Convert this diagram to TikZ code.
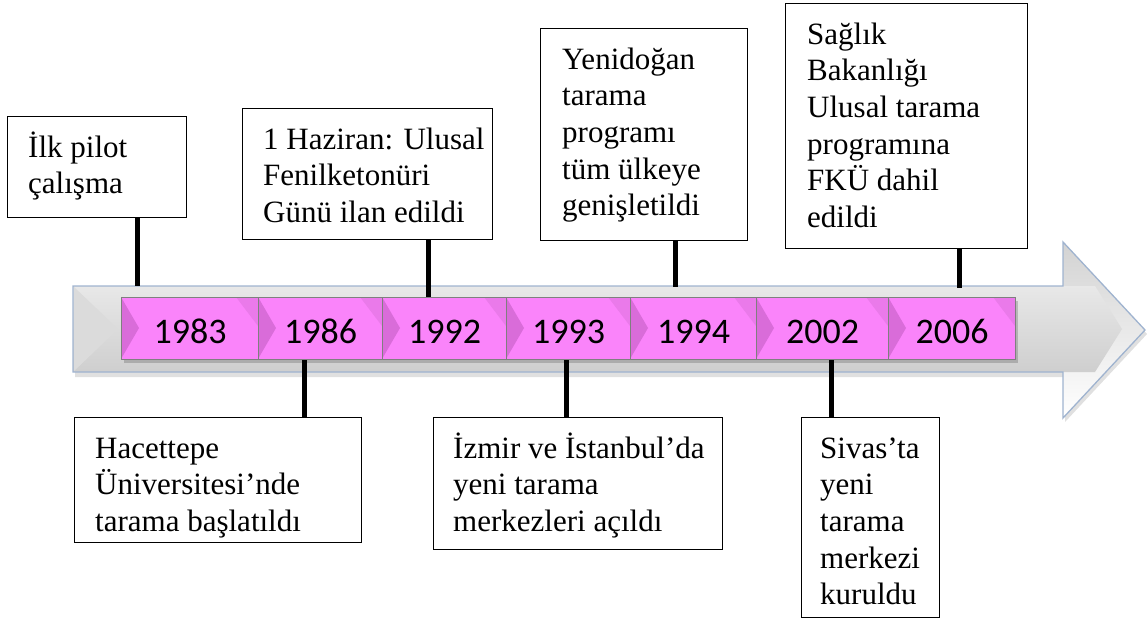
\documentclass[tikz,border=0pt]{standalone}
\usepackage{fontspec}
\setmainfont{Liberation Serif}
\newfontfamily\yearfont{Carlito}
\usetikzlibrary{calc}
\definecolor{pinkbase}{HTML}{FA84FA}
\definecolor{pinkdark}{HTML}{D96CD9}
\definecolor{pinkmid}{HTML}{EA7AEA}
\definecolor{arrowline}{HTML}{9FB3CF}
\definecolor{yrborder}{HTML}{7F7F7F}
\tikzset{
  evbox/.style={draw=black, line width=1.2pt, fill=white, anchor=north west, inner sep=0pt},
  evtext/.style={anchor=north west, inner sep=0pt, align=left, font=\fontsize{31}{36.6}\selectfont},
  yearbox/.style={draw=yrborder, line width=1.3pt, anchor=north west, inner sep=0pt, minimum height=62pt},
  yeartext/.style={font=\yearfont\fontsize{36}{42}\selectfont, anchor=base, inner sep=0pt},
  conn/.style={line width=5pt, black},
}
\begin{document}
\begin{tikzpicture}[x=1pt,y=-1pt]
\useasboundingbox (0,0) rectangle (1147,619);
% arrow shadow
\fill[black, opacity=0.12] (75,290) -- (1065,290) -- (1065,247) -- (1147,334) -- (1065,422) -- (1065,377) -- (75,377) -- cycle;
% arrow head
\shade[top color=gray!35, middle color=gray!6, bottom color=white] (1063,242) -- (1145,330) -- (1063,418) -- cycle;
% arrow body (continues softly into the head)
\shade[top color=gray!18, middle color=white, bottom color=gray!38] (73,286) -- (1095,286) -- (1122,329) -- (1095,372) -- (73,372) -- cycle;
% left notch
\fill[gray!28] (74,287) -- (118,329) -- (74,371) -- cycle;
% arrow outline
\draw[arrowline, line width=1.3pt, line join=miter] (73,286) -- (1063,286) -- (1063,242) -- (1145,330) -- (1063,418) -- (1063,372) -- (73,372) -- cycle;
% year boxes
\foreach \a/\b/\yr in {121/258/1983, 258/382/1986, 382/506/1992, 506/630/1993, 630/756/1994, 756/888/2002, 888/1015/2006} {
  \pgfmathsetmacro\w{\b-\a}
  \fill[black, opacity=0.18] (\a+3,301) rectangle (\b+3,363);
  \fill[pinkbase] (\a,297) rectangle (\b,359);
  \fill[pinkdark] (\a,297) -- (\a+18,328) -- (\a,359) -- cycle;
  \fill[pinkmid] (\b-22,297) -- (\b,297) -- (\b,326) -- cycle;
  \node[yearbox, minimum width=\w pt] (y\yr) at (\a,297) {};
  \node[yeartext] (t\yr) at ($(y\yr.center)+(0,15)$) {\yr};
}
% event boxes (top)
\node[evbox, minimum width=179pt, minimum height=101pt] (e1) at (7,116) {};
\node[evtext] (e1t) at (28,129) {\rule{0pt}{28pt}İlk pilot\\çalışma};
\node[evbox, minimum width=250pt, minimum height=131pt] (e2) at (242,108) {};
\node[evtext] (e2t) at (263,121) {\rule{0pt}{28pt}1 Haziran: Ulusal\\Fenilketonüri\\Günü ilan edildi};
\node[evbox, minimum width=207pt, minimum height=212pt] (e3) at (540,28) {};
\node[evtext] (e3t) at (562,41) {\rule{0pt}{28pt}Yenidoğan\\tarama\\programı\\tüm ülkeye\\genişletildi};
\node[evbox, minimum width=242pt, minimum height=245pt] (e4) at (785,3) {};
\node[evtext] (e4t) at (807,16) {\rule{0pt}{28pt}Sağlık\\Bakanlığı\\Ulusal tarama\\programına\\FKÜ dahil\\edildi};
% event boxes (bottom)
\node[evbox, minimum width=287pt, minimum height=125pt] (e5) at (74,417) {};
\node[evtext] (e5t) at (95,430) {\rule{0pt}{28pt}Hacettepe\\Üniversitesi’nde\\tarama başlatıldı};
\node[evbox, minimum width=289pt, minimum height=132pt] (e6) at (433,417) {};
\node[evtext] (e6t) at (453,430) {\rule{0pt}{28pt}İzmir ve İstanbul’da\\yeni tarama\\merkezleri açıldı};
\node[evbox, minimum width=138pt, minimum height=200pt] (e7) at (801,417) {};
\node[evtext] (e7t) at (820,430) {\rule{0pt}{28pt}Sivas’ta\\yeni\\tarama\\merkezi\\kuruldu};
% connectors
\coordinate (c1) at (137,286);
\coordinate (c2) at (428,0);
\coordinate (c3) at (675,287);
\coordinate (c4) at (959,288);
\coordinate (c5) at (304,0);
\coordinate (c6) at (566,0);
\coordinate (c7) at (831,0);
\draw[conn] (e1.south -| c1) -- (c1);
\draw[conn] (e2.south -| c2) -- (y1992.north -| c2);
\draw[conn] (e3.south -| c3) -- (c3);
\draw[conn] (e4.south -| c4) -- (c4);
\draw[conn] (y1986.south -| c5) -- (e5.north -| c5);
\draw[conn] (y1993.south -| c6) -- (e6.north -| c6);
\draw[conn] (y2002.south -| c7) -- (e7.north -| c7);
\end{tikzpicture}
\end{document}
